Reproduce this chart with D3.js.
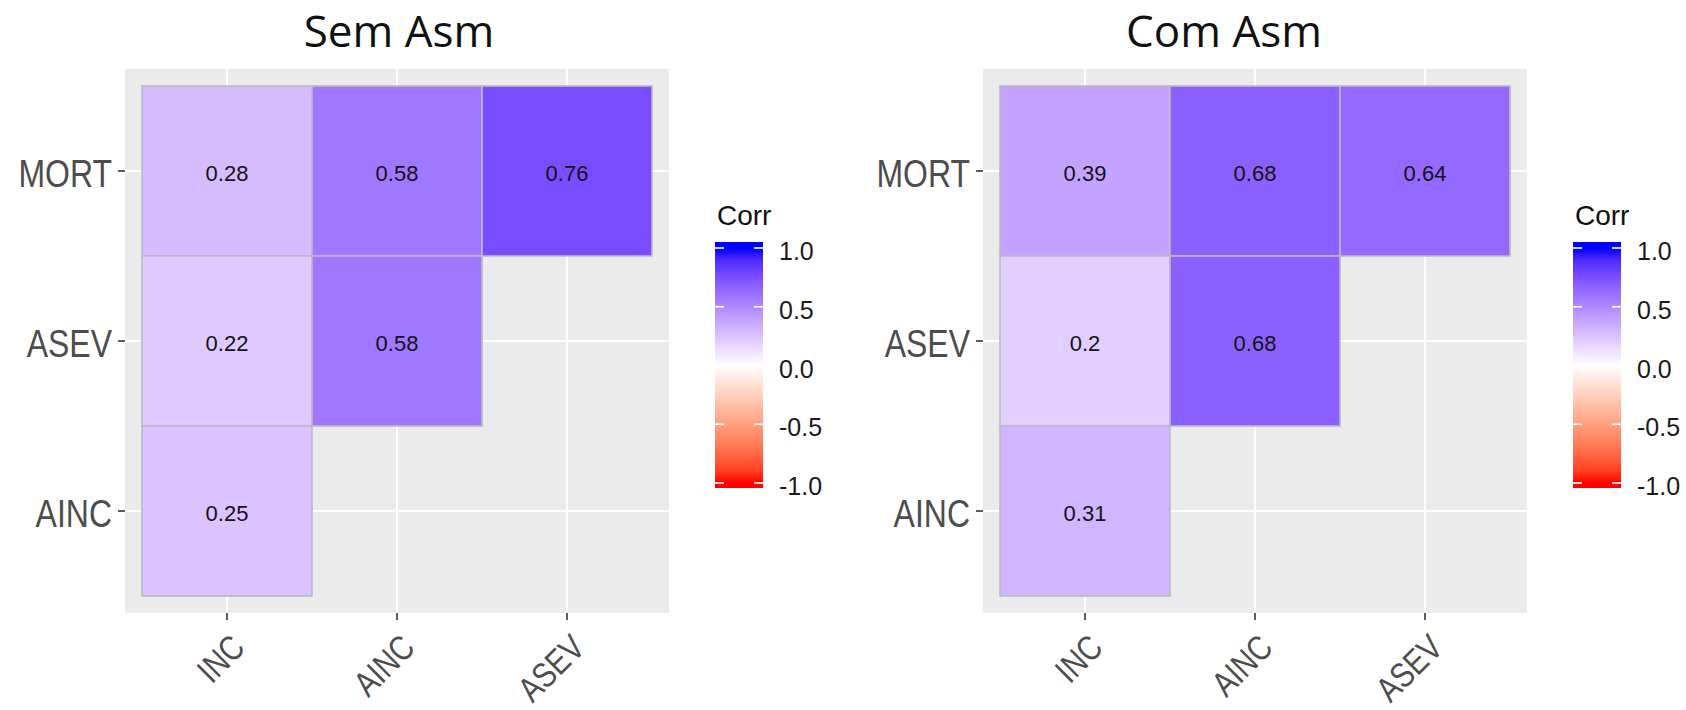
<!DOCTYPE html>
<html>
<head>
<meta charset="utf-8">
<script src="https://cdn.jsdelivr.net/npm/d3@7"></script>
<style>
  html, body { margin: 0; padding: 0; background: #ffffff; }
  svg { display: block; }
</style>
</head>
<body>
<svg id="chart" width="1686" height="710"></svg>
<script>
// Lower-triangle correlation matrices, rows listed top to bottom
const rowLabels = ["MORT", "ASEV", "AINC"];
const colLabels = ["INC", "AINC", "ASEV"];
const panelTitles = ["Sem Asm", "Com Asm"];
const semAsm = [
  [0.28, 0.58, 0.76],
  [0.22, 0.58],
  [0.25]
];
const comAsm = [
  [0.39, 0.68, 0.64],
  [0.20, 0.68],
  [0.31]
];
const legendTicks = [1.0, 0.5, 0.0, -0.5, -1.0];
const legendTickLabels = ["1.0", "0.5", "0.0", "-0.5", "-1.0"];
const legendTitle = "Corr";

// Layout
const panelSize = 544, panelTop = 69;
const panels = [
  { title: panelTitles[0], data: semAsm, left: 125, titleX: 399 },
  { title: panelTitles[1], data: comAsm, left: 983, titleX: 1224 }
];
const legendGap = 46, barW = 48, barTop = 242, barBottom = 488;

const svg = d3.select("#chart");

// Diverging fill: red (-1) -> white (0) -> blue (1), interpolated in Lab
const fill = d3.scaleLinear()
  .domain([-1, 0, 1])
  .range(["#ff0000", "#ffffff", "#0000ff"])
  .interpolate(d3.interpolateLab);

const axisFont = "'Liberation Sans', Arial, sans-serif";

panels.forEach((p, pi) => {
  const g = svg.append("g");
  const x = d3.scaleBand().domain(colLabels)
    .range([p.left, p.left + panelSize]).paddingInner(0).paddingOuter(0.1);
  const y = d3.scaleBand().domain(rowLabels)
    .range([panelTop, panelTop + panelSize]).paddingInner(0).paddingOuter(0.1);

  // Panel background and major grid
  g.append("rect")
    .attr("x", p.left).attr("y", panelTop)
    .attr("width", panelSize).attr("height", panelSize)
    .attr("fill", "#ebebeb");
  g.selectAll("line.vgrid").data(colLabels).join("line")
    .attr("class", "vgrid")
    .attr("x1", d => x(d) + x.bandwidth() / 2).attr("x2", d => x(d) + x.bandwidth() / 2)
    .attr("y1", panelTop).attr("y2", panelTop + panelSize)
    .attr("stroke", "#ffffff").attr("stroke-width", 2);
  g.selectAll("line.hgrid").data(rowLabels).join("line")
    .attr("class", "hgrid")
    .attr("y1", d => y(d) + y.bandwidth() / 2).attr("y2", d => y(d) + y.bandwidth() / 2)
    .attr("x1", p.left).attr("x2", p.left + panelSize)
    .attr("stroke", "#ffffff").attr("stroke-width", 2);

  // Cells
  const cells = [];
  p.data.forEach((row, ri) => row.forEach((v, ci) => {
    cells.push({ row: rowLabels[ri], col: colLabels[ci], value: v });
  }));
  g.selectAll("rect.cell").data(cells).join("rect")
    .attr("class", "cell")
    .attr("x", d => x(d.col)).attr("y", d => y(d.row))
    .attr("width", x.bandwidth()).attr("height", y.bandwidth())
    .attr("fill", d => fill(d.value))
    .attr("stroke", "#bdb8c4").attr("stroke-width", 1.6);
  g.selectAll("text.val").data(cells).join("text")
    .attr("class", "val")
    .attr("x", d => x(d.col) + x.bandwidth() / 2)
    .attr("y", d => y(d.row) + y.bandwidth() / 2 + 10)
    .attr("text-anchor", "middle")
    .attr("font-family", axisFont).attr("font-size", 22)
    .attr("fill", "#141414")
    .text(d => String(d.value));

  // Y axis ticks and labels
  g.selectAll("line.ytick").data(rowLabels).join("line")
    .attr("class", "ytick")
    .attr("x1", p.left - 7).attr("x2", p.left)
    .attr("y1", d => y(d) + y.bandwidth() / 2).attr("y2", d => y(d) + y.bandwidth() / 2)
    .attr("stroke", "#333333").attr("stroke-width", 1.6);
  g.selectAll("text.ylab").data(rowLabels).join("text")
    .attr("class", "ylab")
    .attr("transform", d => `translate(${p.left - 13},${y(d) + y.bandwidth() / 2 + 16}) scale(0.82,1)`)
    .attr("text-anchor", "end")
    .attr("font-family", axisFont).attr("font-size", 39)
    .attr("fill", "#4d4d4d")
    .text(d => d);

  // X axis ticks and rotated labels
  const axisY = panelTop + panelSize;
  g.selectAll("line.xtick").data(colLabels).join("line")
    .attr("class", "xtick")
    .attr("x1", d => x(d) + x.bandwidth() / 2).attr("x2", d => x(d) + x.bandwidth() / 2)
    .attr("y1", axisY).attr("y2", axisY + 7)
    .attr("stroke", "#333333").attr("stroke-width", 1.6);
  g.selectAll("g.xlab").data(colLabels).join("g")
    .attr("class", "xlab")
    .attr("transform", d => `translate(${x(d) + x.bandwidth() / 2 + 2},${axisY + 19}) rotate(-45)`)
    .append("text")
    .attr("transform", "scale(0.82,1)")
    .attr("y", 25)
    .attr("text-anchor", "end")
    .attr("font-family", axisFont).attr("font-size", 35)
    .attr("fill", "#4d4d4d")
    .text(d => d);

  // Title
  svg.append("text")
    .attr("x", p.titleX).attr("y", 47)
    .attr("text-anchor", "middle")
    .attr("font-family", "'Open Sans', sans-serif").attr("font-size", 44)
    .attr("fill", "#111111")
    .text(p.title);

  // Colour bar legend
  const lx = p.left + panelSize + legendGap;
  const ly = d3.scaleLinear().domain([-1, 1]).range([483, 248]);
  const gradId = "corrGrad" + pi;
  const grad = svg.append("defs").append("linearGradient")
    .attr("id", gradId).attr("gradientUnits", "userSpaceOnUse")
    .attr("x1", 0).attr("x2", 0).attr("y1", ly(-1)).attr("y2", ly(1));
  d3.range(-1, 1.0001, 0.1).forEach(v => {
    grad.append("stop").attr("offset", (v + 1) / 2).attr("stop-color", fill(v));
  });
  svg.append("text")
    .attr("x", lx + 2).attr("y", 225)
    .attr("font-family", axisFont).attr("font-size", 28)
    .attr("fill", "#111111")
    .text(legendTitle);
  svg.append("rect")
    .attr("x", lx).attr("y", barTop).attr("width", barW).attr("height", barBottom - barTop)
    .attr("fill", `url(#${gradId})`);
  const lg = svg.append("g");
  lg.selectAll("line.lt1").data(legendTicks).join("line")
    .attr("x1", lx).attr("x2", lx + 9)
    .attr("y1", d => ly(d)).attr("y2", d => ly(d))
    .attr("stroke", "#ffffff").attr("stroke-width", 1.6);
  lg.selectAll("line.lt2").data(legendTicks).join("line")
    .attr("x1", lx + barW - 9).attr("x2", lx + barW)
    .attr("y1", d => ly(d)).attr("y2", d => ly(d))
    .attr("stroke", "#ffffff").attr("stroke-width", 1.6);
  lg.selectAll("text").data(legendTicks).join("text")
    .attr("x", lx + barW + 16)
    .attr("y", d => ly(d) + 12)
    .attr("font-family", axisFont).attr("font-size", 25)
    .attr("fill", "#1a1a1a")
    .text((d, i) => legendTickLabels[i]);
});
</script>
</body>
</html>
